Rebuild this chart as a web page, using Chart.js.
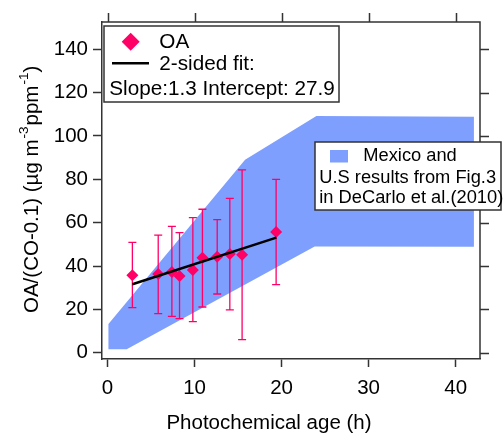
<!DOCTYPE html>
<html><head><meta charset="utf-8">
<script src="https://cdn.jsdelivr.net/npm/chart.js@4/dist/chart.umd.min.js"></script>
<style>html,body{margin:0;padding:0;background:#fff}canvas{display:block}</style>
</head><body>
<canvas id="c" width="504" height="433"></canvas>
<script>
// ---- data ----
const ages    = [2.85, 5.82, 7.39, 8.27, 9.8, 10.9, 12.6, 14.05, 15.46, 19.37];
const oa      = [35.7, 36.3, 37.2, 35.4, 38.2, 43.8, 44.3, 45.5, 45.2, 55.7];
const errHigh = [50.9, 54.3, 58.3, 55.4, 62.3, 66.2, 61.4, 71.2, 84.4, 80.0];
const errLow  = [20.8, 18.0, 16.8, 15.7, 14.3, 21.1, 27.1, 19.8, 6.0, 31.4];
const fitX = [2.85, 19.4];
const fitY = [31.6, 53.1];
const bandX = [0.1, 15.8, 24.0, 42.1, 42.1, 23.8, 2.2, 0.1];
const bandY = [13.3, 89.0, 109.2, 108.9, 48.9, 49.0, 1.6, 1.6];
const xTicks = [0, 10, 20, 30, 40];
const yTicks = [0, 20, 40, 60, 80, 100, 120, 140];
const legendOA = 'OA';
const legendFit = '2-sided fit:';
const legendFitStats = 'Slope:1.3 Intercept: 27.9';
const legendBand = ['Mexico and', 'U.S results from Fig.3', 'in DeCarlo et al.(2010)'];
const xTitle = 'Photochemical age (h)';

const FONT = "'Liberation Sans', Arial, sans-serif";
const FRAME = '#333';
const PINK = 'rgb(255,0,102)';
const BLUE = 'rgb(127,159,255)';

function pts(xs, ys) { return xs.map((x, i) => ({x: x, y: ys[i]})); }

const overlay = {
  id: 'overlay',
  afterDatasetDraw(chart, args) {
    if (args.index !== 0) return;
    const ctx = chart.ctx, xs = chart.scales.x, ys = chart.scales.y;
    ctx.save();
    ctx.strokeStyle = PINK; ctx.lineWidth = 1.3;
    ages.forEach((a, i) => {
      const px = xs.getPixelForValue(a);
      const t = ys.getPixelForValue(errHigh[i]);
      const b = ys.getPixelForValue(errLow[i]);
      ctx.beginPath();
      ctx.moveTo(px, t); ctx.lineTo(px, b);
      ctx.moveTo(px - 4, t); ctx.lineTo(px + 4, t);
      ctx.moveTo(px - 4, b); ctx.lineTo(px + 4, b);
      ctx.stroke();
    });
    ctx.restore();
  },
  afterDraw(chart) {
    const ctx = chart.ctx, ca = chart.chartArea, xs = chart.scales.x, ys = chart.scales.y;
    ctx.save();
    // frame top and right
    ctx.strokeStyle = FRAME; ctx.lineWidth = 1.5;
    ctx.beginPath();
    ctx.moveTo(ca.left, ca.top); ctx.lineTo(ca.right, ca.top); ctx.lineTo(ca.right, ca.bottom);
    ctx.stroke();
    // mirror ticks
    ctx.beginPath();
    xTicks.forEach(v => { const p = Math.round(xs.getPixelForValue(v)) + 0.5; ctx.moveTo(p, ca.top); ctx.lineTo(p, ca.top - 9); });
    yTicks.forEach(v => { const p = Math.round(ys.getPixelForValue(v)) + 0.5; ctx.moveTo(ca.right, p); ctx.lineTo(ca.right + 9, p); });
    ctx.stroke();

    // legend 1
    ctx.fillStyle = '#fff';
    ctx.fillRect(104, 26, 235, 76);
    ctx.strokeStyle = FRAME; ctx.lineWidth = 1.5;
    ctx.strokeRect(104, 26, 235, 76);
    ctx.fillStyle = PINK;
    ctx.beginPath();
    ctx.moveTo(130.7 - 9, 41.7); ctx.lineTo(130.7, 41.7 - 9); ctx.lineTo(130.7 + 9, 41.7); ctx.lineTo(130.7, 41.7 + 9);
    ctx.closePath(); ctx.fill();
    ctx.strokeStyle = '#000'; ctx.lineWidth = 2.5;
    ctx.beginPath(); ctx.moveTo(112, 63.3); ctx.lineTo(149, 63.3); ctx.stroke();
    ctx.fillStyle = '#000';
    ctx.font = '20.7px ' + FONT;
    ctx.textBaseline = 'middle'; ctx.textAlign = 'left';
    ctx.fillText(legendOA, 159.3, 42.5);
    ctx.fillText(legendFit, 159.3, 64);
    ctx.fillText(legendFitStats, 109.3, 89);

    // legend 2
    ctx.fillStyle = '#fff';
    ctx.fillRect(315, 142, 186, 68);
    ctx.strokeStyle = FRAME; ctx.lineWidth = 1.5;
    ctx.strokeRect(315, 142, 186, 68);
    ctx.fillStyle = BLUE;
    ctx.fillRect(330, 150, 18, 12.5);
    ctx.fillStyle = '#000';
    ctx.font = '18.3px ' + FONT;
    ctx.fillText(legendBand[0], 363.3, 156);
    ctx.fillText(legendBand[1], 319.3, 177.5);
    ctx.fillText(legendBand[2], 319.3, 197.5);

    // x title
    ctx.font = '20.5px ' + FONT;
    ctx.textAlign = 'center';
    ctx.fillText(xTitle, 269, 423);

    // y title (rotated, with superscripts)
    ctx.translate(31, 313);
    ctx.rotate(-Math.PI / 2);
    ctx.textAlign = 'left'; ctx.textBaseline = 'alphabetic';
    const base = 7;
    let off = 0;
    const parts = [
      ['OA/(CO-0.1) (\u00b5g m', 20.5, 0, 0],
      ['-3', 13.5, -10, 1],
      ['ppm', 20.5, 0, 1],
      ['-1', 13.5, -10, 1],
      [')', 20.5, 0, 0]
    ];
    parts.forEach(p => {
      ctx.font = p[1] + 'px ' + FONT;
      off += p[3];
      ctx.fillText(p[0], off, base + p[2]);
      off += ctx.measureText(p[0]).width;
    });
    ctx.restore();
  }
};

new Chart(document.getElementById('c'), {
  type: 'scatter',
  data: {
    datasets: [
      { label: 'band', data: pts(bandX, bandY), showLine: true, fill: 'shape',
        backgroundColor: BLUE, borderColor: BLUE, borderWidth: 0, pointRadius: 0, order: 2 },
      { label: 'OA', data: pts(ages, oa), pointStyle: 'rectRot', pointRadius: 6,
        backgroundColor: PINK, borderColor: PINK, borderWidth: 0, order: 1 },
      { label: 'fit', data: pts(fitX, fitY), showLine: true, borderColor: '#000', borderWidth: 2.5,
        pointRadius: 0, fill: false, order: 0 }
    ]
  },
  options: {
    responsive: false, animation: false, devicePixelRatio: 1,
    layout: { padding: { left: 0, top: 22, right: 24, bottom: 0 } },
    plugins: { legend: { display: false }, tooltip: { enabled: false } },
    scales: {
      x: {
        type: 'linear', min: -0.64, max: 42.8,
        afterBuildTicks: s => { s.ticks = xTicks.map(v => ({ value: v })); },
        afterFit: s => { s.height = 74; },
        grid: { drawOnChartArea: false, drawTicks: true, tickLength: 8, tickColor: FRAME, tickWidth: 1.5 },
        border: { color: FRAME, width: 1.5 },
        ticks: { font: { family: FONT, size: 20.5 }, color: '#000', padding: 9, maxRotation: 0 }
      },
      y: {
        type: 'linear', min: -2.9, max: 152.6,
        afterBuildTicks: s => { s.ticks = yTicks.map(v => ({ value: v })); },
        afterFit: s => { s.width = 102; },
        grid: { drawOnChartArea: false, drawTicks: true, tickLength: 9, tickColor: FRAME, tickWidth: 1.5 },
        border: { color: FRAME, width: 1.5 },
        ticks: { font: { family: FONT, size: 20.5 }, color: '#000', padding: 5 }
      }
    }
  },
  plugins: [overlay]
});
</script>
</body></html>
